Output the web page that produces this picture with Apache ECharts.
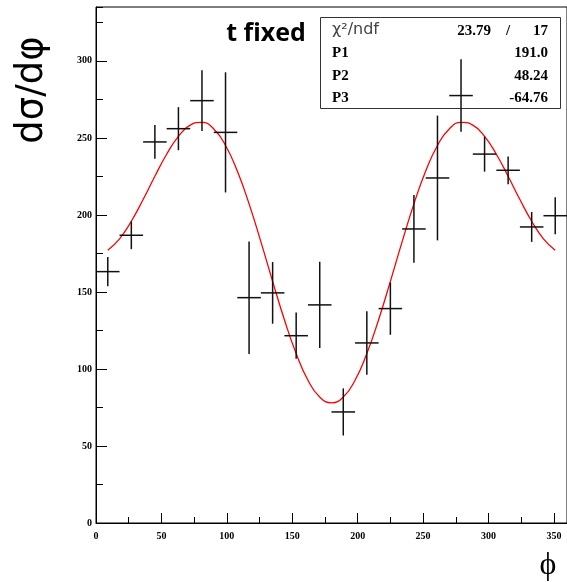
<!DOCTYPE html>
<html>
<head>
<meta charset="utf-8">
<script src="https://cdn.jsdelivr.net/npm/echarts@6/dist/echarts.min.js"></script>
<style>
html,body{margin:0;padding:0;background:#fff;}
#chart{width:567px;height:582px;}
</style>
</head>
<body>
<div id="chart"></div>
<script>
// ---- data ----
var phiCenters = [9, 27, 45, 63, 81, 99, 117, 135, 153, 171, 189, 207, 225, 243, 261, 279, 297, 315, 333, 351];
var phiHalfWidths = [9, 9, 9, 9, 9, 9, 9, 9, 9, 9, 9, 9, 9, 9, 9, 9, 9, 9, 9, 9];
var crossSection = [163.2, 186.8, 247.4, 256.0, 274.2, 253.6, 146.3, 149.4, 121.6, 141.6, 72.1, 116.9, 139.2, 190.9, 224.0, 277.5, 239.5, 229.0, 192.2, 199.5];
var crossSectionErr = [9.5, 9.0, 11.0, 14.0, 19.7, 39.0, 36.5, 20.0, 15.0, 28.0, 15.3, 20.6, 17.0, 22.0, 40.5, 23.5, 11.4, 9.0, 9.7, 12.0];

// fit curve samples
var fitPhi = [9, 18, 27, 36, 45, 54, 63, 72, 81, 90, 99, 108, 117, 126, 135, 144, 153, 162, 171, 180,
              189, 198, 207, 216, 225, 234, 243, 252, 261, 270, 279, 288, 297, 306, 315, 324, 333, 342, 351];
var fitValues = [177.1, 184.5, 195.9, 210.0, 225.1, 239.4, 251.0, 258.3, 260.1, 255.8, 245.1, 228.5, 207.2, 182.7, 156.9, 132.0, 110.0, 92.7, 81.8, 78.0,
                 81.8, 92.7, 110.0, 132.0, 156.9, 182.7, 207.2, 228.5, 245.1, 255.8, 260.1, 258.3, 251.0, 239.4, 225.1, 210.0, 195.9, 184.5, 177.1];

var xTickLabels = ['0', '50', '100', '150', '200', '250', '300', '350'];
var yTickLabels = ['0', '50', '100', '150', '200', '250', '300'];

var statLabels = ['P1', 'P2', 'P3'];
var statValues = ['191.0', '48.24', '-64.76'];
var chi2Value = '23.79';
var ndfValue = '17';
var titleText = 't fixed';

// ---- build ----
var errData = phiCenters.map(function (p, i) {
  return [p, crossSection[i], phiHalfWidths[i], crossSectionErr[i]];
});
var fitData = fitPhi.map(function (p, i) { return [p, fitValues[i]]; });

var tickFont = {fontFamily: 'Liberation Serif', fontWeight: 'bold', fontSize: 10, color: '#000'};
var axLine = {show: true, lineStyle: {color: '#000', width: 1}};

var chart = echarts.init(document.getElementById('chart'), null, {renderer: 'canvas'});
var option = {
  animation: false,
  backgroundColor: '#fff',
  grid: {left: 96, top: 7, right: -4, bottom: 59, show: true, borderColor: '#000', borderWidth: 1, backgroundColor: 'transparent'},
  xAxis: [
    {type: 'value', min: 0, max: 360, interval: 50, position: 'bottom',
     axisLine: axLine,
     axisTick: {show: true, inside: true, length: 10, lineStyle: {color: '#000', width: 1}},
     axisLabel: Object.assign({margin: 8, showMaxLabel: false, formatter: function (v) {
       var s = String(v); return xTickLabels.indexOf(s) >= 0 ? s : '';
     }}, tickFont),
     splitLine: {show: false}},
    {type: 'value', min: 0, max: 360, interval: 25, position: 'bottom',
     axisLine: {show: false},
     axisTick: {show: true, inside: true, length: 6, lineStyle: {color: '#000', width: 1}},
     axisLabel: {show: false}, splitLine: {show: false}}
  ],
  yAxis: [
    {type: 'value', min: 0, max: 335, interval: 50, position: 'left',
     axisLine: axLine,
     axisTick: {show: true, inside: true, length: 11, lineStyle: {color: '#000', width: 1}},
     axisLabel: Object.assign({margin: 4, showMaxLabel: false, formatter: function (v) {
       var s = String(v); return yTickLabels.indexOf(s) >= 0 ? s : '';
     }}, tickFont),
     splitLine: {show: false}},
    {type: 'value', min: 0, max: 335, interval: 25, position: 'left',
     axisLine: {show: false},
     axisTick: {show: true, inside: true, length: 7, lineStyle: {color: '#000', width: 1}},
     axisLabel: {show: false}, splitLine: {show: false}}
  ],
  series: [
    {
      type: 'line', xAxisIndex: 0, yAxisIndex: 0,
      data: fitData, smooth: true, showSymbol: false, symbol: 'none',
      lineStyle: {color: '#ff0000', width: 1.3}, z: 3
    },
    {
      type: 'custom', xAxisIndex: 0, yAxisIndex: 0, z: 6,
      data: errData,
      renderItem: function (params, api) {
        var x = api.value(0), y = api.value(1), xe = api.value(2), ye = api.value(3);
        var l = api.coord([x - xe, y]), r = api.coord([x + xe, y]);
        var t = api.coord([x, y + ye]), b = api.coord([x, y - ye]);
        var st = {stroke: '#111', lineWidth: 1.5};
        return {type: 'group', children: [
          {type: 'line', shape: {x1: l[0], y1: l[1], x2: r[0], y2: r[1]}, style: st},
          {type: 'line', shape: {x1: t[0], y1: t[1], x2: b[0], y2: b[1]}, style: st}
        ]};
      }
    }
  ],
  graphic: [
    {type: 'text', x: 266, y: 34, z: 1,
     style: {text: titleText, font: 'bold 25px "Open Sans"', fill: '#000', textAlign: 'center', textVerticalAlign: 'middle'}},
    {type: 'text', x: 32, y: 90, rotation: Math.PI / 2, z: 1,
     style: {text: 'dσ/dφ', font: '37px "DejaVu Sans"', fill: '#000', textAlign: 'center', textVerticalAlign: 'middle'}},
    {type: 'text', x: 548, y: 566, z: 1,
     style: {text: 'ϕ', font: '32px "Liberation Serif"', fill: '#000', textAlign: 'center', textVerticalAlign: 'middle'}},
    {type: 'rect', shape: {x: 320.5, y: 17.5, width: 240, height: 91}, z: 1,
     style: {fill: '#fff', stroke: '#333', lineWidth: 1}},
    {type: 'text', x: 332, y: 30, z: 2,
     style: {text: 'χ²/ndf', font: '16px "DejaVu Sans"', fill: '#444', textAlign: 'left', textVerticalAlign: 'middle'}},
    {type: 'text', x: 491, y: 31, z: 2,
     style: {text: chi2Value, font: 'bold 15px "Liberation Serif"', fill: '#000', textAlign: 'right', textVerticalAlign: 'middle'}},
    {type: 'text', x: 508, y: 31, z: 2,
     style: {text: '/', font: 'bold 15px "Liberation Serif"', fill: '#000', textAlign: 'center', textVerticalAlign: 'middle'}},
    {type: 'text', x: 548, y: 31, z: 2,
     style: {text: ndfValue, font: 'bold 15px "Liberation Serif"', fill: '#000', textAlign: 'right', textVerticalAlign: 'middle'}}
  ]
};
var rowY = [53, 76, 98];
statLabels.forEach(function (lab, i) {
  option.graphic.push({type: 'text', x: 332, y: rowY[i], z: 2,
    style: {text: lab, font: 'bold 15px "Liberation Serif"', fill: '#000', textAlign: 'left', textVerticalAlign: 'middle'}});
  option.graphic.push({type: 'text', x: 548, y: rowY[i], z: 2,
    style: {text: statValues[i], font: 'bold 15px "Liberation Serif"', fill: '#000', textAlign: 'right', textVerticalAlign: 'middle'}});
});
chart.setOption(option);
</script>
</body>
</html>
